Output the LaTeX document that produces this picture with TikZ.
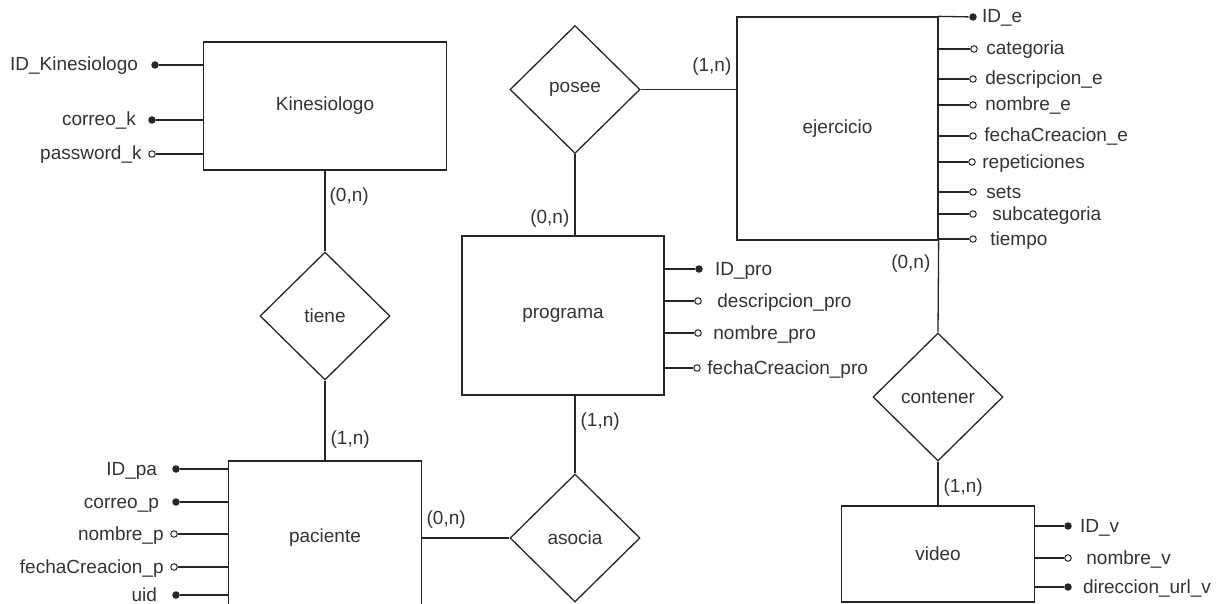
\documentclass[tikz,border=0pt]{standalone}
\usepackage{fontspec}
\setmainfont{Liberation Sans}
\usetikzlibrary{positioning,shapes.geometric}

\definecolor{trazo}{HTML}{262626}
\definecolor{texto}{HTML}{333333}

\tikzset{
  entidad/.style={draw=trazo, rectangle, inner sep=0pt, text=texto},
  relacion/.style={draw=trazo, diamond, inner sep=0pt, text=texto,
    minimum width=130pt, minimum height=128pt},
  clave/.style={circle, fill=trazo, inner sep=0pt, minimum size=7.5pt},
  atributo/.style={circle, draw=trazo, fill=white, line width=1pt,
    inner sep=0pt, minimum size=6.5pt},
  etiqueta/.style={text=texto, inner sep=0pt, text height=12pt, text depth=0pt},
  card/.style={etiqueta}
}

\begin{document}
\begin{tikzpicture}[x=1pt, y=-1pt, line width=1.3pt, draw=trazo,
    font=\fontsize{19}{23}\selectfont]
  \useasboundingbox (0,0) rectangle (1222,604);
  \clip (0,0) rectangle (1222,604);

  % Entidades
  \node[entidad, minimum width=243pt, minimum height=128pt] (kine) at (325,106) {Kinesiologo};
  \node[entidad, minimum width=202pt, minimum height=159pt] (prog) at (563,315.5) {programa};
  \node[entidad, minimum width=201pt, minimum height=223pt] (ejer) at (837.5,128.5) {ejercicio};
  \node[entidad, minimum width=193pt, minimum height=154pt] (paci) at (325,538) {paciente};
  \node[entidad, minimum width=193pt, minimum height=96pt] (video) at (938,554) {video};

  % Relaciones
  \node[relacion] (posee) at (575,89.5) {posee};
  \node[relacion] (tiene) at (325,316) {tiene};
  \node[relacion] (asocia) at (575,538) {asocia};
  \node[relacion] (conte) at (938,397) {contener};

  % Conexiones
  \draw (kine.south) -- (tiene.north);
  \draw (tiene.south) -- (paci.north);
  \draw (paci.east) -- (asocia.west);
  \draw (asocia.north) -- (asocia.north |- prog.south);
  \draw (posee.south) -- (posee.south |- prog.north);
  \draw (posee.east) -- (posee.east -| ejer.west);
  \draw (ejer.south east) -- (conte.north);
  \draw (conte.south) -- (video.north);

  % Cardinalidades
  \node[card, anchor=west] (c1) at (329,195) {(0,n)};
  \node[card, anchor=west] (c2) at (330,438) {(1,n)};
  \node[card, anchor=east] (c3) at (732,66) {(1,n)};
  \node[card, anchor=east] (c4) at (570,217) {(0,n)};
  \node[card, anchor=west] (c5) at (580,420) {(1,n)};
  \node[card, anchor=west] (c6) at (426,518) {(0,n)};
  \node[card, anchor=east] (c7) at (931,262) {(0,n)};
  \node[card, anchor=west] (c8) at (943,486) {(1,n)};

  % Atributos de Kinesiologo
  \node[clave] (kid) at (155,65) {};
  \node[etiqueta, left=12pt of kid] (kidt) {ID\_Kinesiologo};
  \draw (kine.west |- kid) -- (kid);
  \node[clave] (kcor) at (152,120) {};
  \node[etiqueta, left=11pt of kcor] (kcort) {correo\_k};
  \draw (kine.west |- kcor) -- (kcor);
  \node[atributo] (kpas) at (152,154) {};
  \node[etiqueta, left=6pt of kpas] (kpast) {password\_k};
  \draw (kine.west |- kpas) -- (kpas);

  % Atributos de paciente
  \node[clave] (pid) at (176,469) {};
  \node[etiqueta, left=14pt of pid] (pidt) {ID\_pa};
  \draw (paci.west |- pid) -- (pid);
  \node[clave] (pcor) at (176,502) {};
  \node[etiqueta, left=12pt of pcor] (pcort) {correo\_p};
  \draw (paci.west |- pcor) -- (pcor);
  \node[atributo] (pnom) at (174,534) {};
  \node[etiqueta, left=6pt of pnom] (pnomt) {nombre\_p};
  \draw (paci.west |- pnom) -- (pnom);
  \node[atributo] (pfec) at (174,567) {};
  \node[etiqueta, left=6pt of pfec] (pfect) {fechaCreacion\_p};
  \draw (paci.west |- pfec) -- (pfec);
  \node[clave] (puid) at (176,595) {};
  \node[etiqueta, left=14pt of puid] (puidt) {uid};
  \draw (paci.west |- puid) -- (puid);

  % Atributos de programa
  \node[clave] (rid) at (699,269) {};
  \node[etiqueta, right=11pt of rid] (ridt) {ID\_pro};
  \draw (prog.east |- rid) -- (rid);
  \node[atributo] (rdes) at (698,301) {};
  \node[etiqueta, right=15pt of rdes] (rdest) {descripcion\_pro};
  \draw (prog.east |- rdes) -- (rdes);
  \node[atributo] (rnom) at (698,333) {};
  \node[etiqueta, right=11pt of rnom] (rnomt) {nombre\_pro};
  \draw (prog.east |- rnom) -- (rnom);
  \node[atributo] (rfec) at (697,368) {};
  \node[etiqueta, right=6pt of rfec] (rfect) {fechaCreacion\_pro};
  \draw (prog.east |- rfec) -- (rfec);

  % Atributos de ejercicio
  \node[clave] (eid) at (973,17) {};
  \node[etiqueta, right=4pt of eid] (eidt) {ID\_e};
  \draw (ejer.north east) -- (eid);
  \node[atributo] (ecat) at (974,49) {};
  \node[etiqueta, right=8pt of ecat] (ecatt) {categoria};
  \draw (ejer.east |- ecat) -- (ecat);
  \node[atributo] (edes) at (973,79) {};
  \node[etiqueta, right=8pt of edes] (edest) {descripcion\_e};
  \draw (ejer.east |- edes) -- (edes);
  \node[atributo] (enom) at (973,105) {};
  \node[etiqueta, right=8pt of enom] (enomt) {nombre\_e};
  \draw (ejer.east |- enom) -- (enom);
  \node[atributo] (efec) at (973,136) {};
  \node[etiqueta, right=7pt of efec] (efect) {fechaCreacion\_e};
  \draw (ejer.east |- efec) -- (efec);
  \node[atributo] (erep) at (972,162) {};
  \node[etiqueta, right=6pt of erep] (erept) {repeticiones};
  \draw (ejer.east |- erep) -- (erep);
  \node[atributo] (eset) at (973,192) {};
  \node[etiqueta, right=9pt of eset] (esett) {sets};
  \draw (ejer.east |- eset) -- (eset);
  \node[atributo] (esub) at (973,214) {};
  \node[etiqueta, right=15pt of esub] (esubt) {subcategoria};
  \draw (ejer.east |- esub) -- (esub);
  \node[atributo] (etie) at (973,239) {};
  \node[etiqueta, right=13pt of etie] (etiet) {tiempo};
  \draw (ejer.east |- etie) -- (etie);

  % Atributos de video
  \node[clave] (vid) at (1068,526) {};
  \node[etiqueta, right=7pt of vid] (vidt) {ID\_v};
  \draw (video.east |- vid) -- (vid);
  \node[atributo] (vnom) at (1068,558) {};
  \node[etiqueta, right=14pt of vnom] (vnomt) {nombre\_v};
  \draw (video.east |- vnom) -- (vnom);
  \node[clave] (vdir) at (1068,587) {};
  \node[etiqueta, right=10pt of vdir] (vdirt) {direccion\_url\_v};
  \draw (video.east |- vdir) -- (vdir);
\end{tikzpicture}
\end{document}
